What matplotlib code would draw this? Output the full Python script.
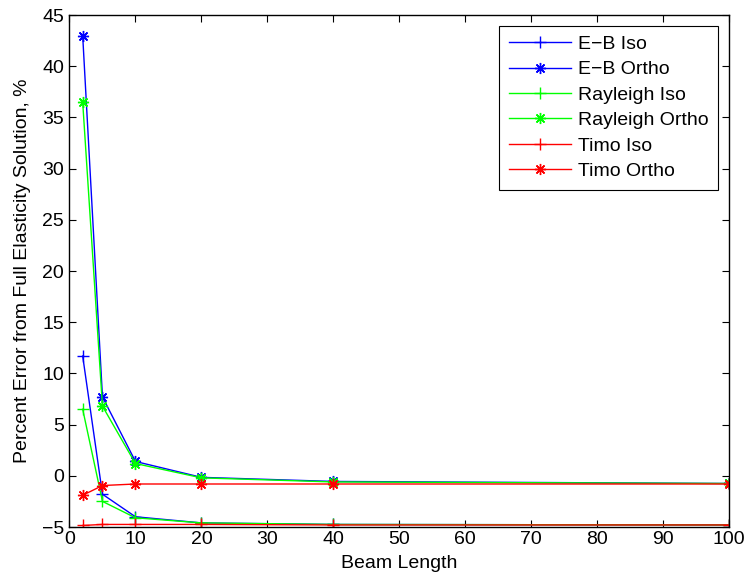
import matplotlib

matplotlib.use("Agg")
import matplotlib.pyplot as plt

plt.rcParams["font.family"] = ["Liberation Sans", "DejaVu Sans"]

# Beam lengths and percent error against the full elasticity solution.
beam_length = [2, 5, 10, 20, 40, 100]
eb_iso = [11.7, -1.8, -4.0, -4.6, -4.75, -4.8]
eb_ortho = [43.0, 7.7, 1.4, -0.15, -0.55, -0.75]
rayleigh_iso = [6.5, -2.5, -4.1, -4.6, -4.75, -4.8]
rayleigh_ortho = [36.5, 6.8, 1.2, -0.2, -0.6, -0.75]
timo_iso = [-4.85, -4.75, -4.75, -4.75, -4.8, -4.8]
timo_ortho = [-1.9, -0.95, -0.8, -0.8, -0.8, -0.8]

ASTERISK = (8, 2, 0)

series = [
    ("E\u2212B Iso", eb_iso, "#0000ff", "+", 9),
    ("E\u2212B Ortho", eb_ortho, "#0000ff", ASTERISK, 8),
    ("Rayleigh Iso", rayleigh_iso, "#00ff00", "+", 9),
    ("Rayleigh Ortho", rayleigh_ortho, "#00ff00", ASTERISK, 8),
    ("Timo Iso", timo_iso, "#ff0000", "+", 9),
    ("Timo Ortho", timo_ortho, "#ff0000", ASTERISK, 8),
]

FS = 14

fig = plt.figure(figsize=(7.44, 5.84), dpi=100)
ax = fig.add_axes([0.0934, 0.0976, 0.8866, 0.8766])

for label, vals, color, marker, ms in series:
    ax.plot(beam_length, vals, color=color, marker=marker, markersize=ms,
            markeredgewidth=1.0, linewidth=1.0, label=label)

ax.set_xlim(0, 100)
ax.set_ylim(-5, 45)
ax.set_xticks(range(0, 101, 10))
ax.set_yticks(range(-5, 46, 5))
ax.set_yticklabels(["\u22125"] + [str(v) for v in range(0, 46, 5)])
ax.tick_params(direction="in", top=True, right=True, length=5, labelsize=FS)
ax.tick_params(axis="x", pad=3)
ax.tick_params(axis="y", pad=4)
for spine in ax.spines.values():
    spine.set_linewidth(1.0)

ax.set_xlabel("Beam Length", fontsize=FS, labelpad=5)
ax.set_ylabel("Percent Error from Full Elasticity Solution, %", fontsize=FS,
              labelpad=8)

leg = ax.legend(loc="upper right", fontsize=FS, handlelength=3.2,
                fancybox=False, framealpha=1, edgecolor="black",
                borderaxespad=0.55, labelspacing=0.4, borderpad=0.5,
                handletextpad=0.35)
leg.get_frame().set_linewidth(0.8)

fig.savefig("out.png", dpi=100)
